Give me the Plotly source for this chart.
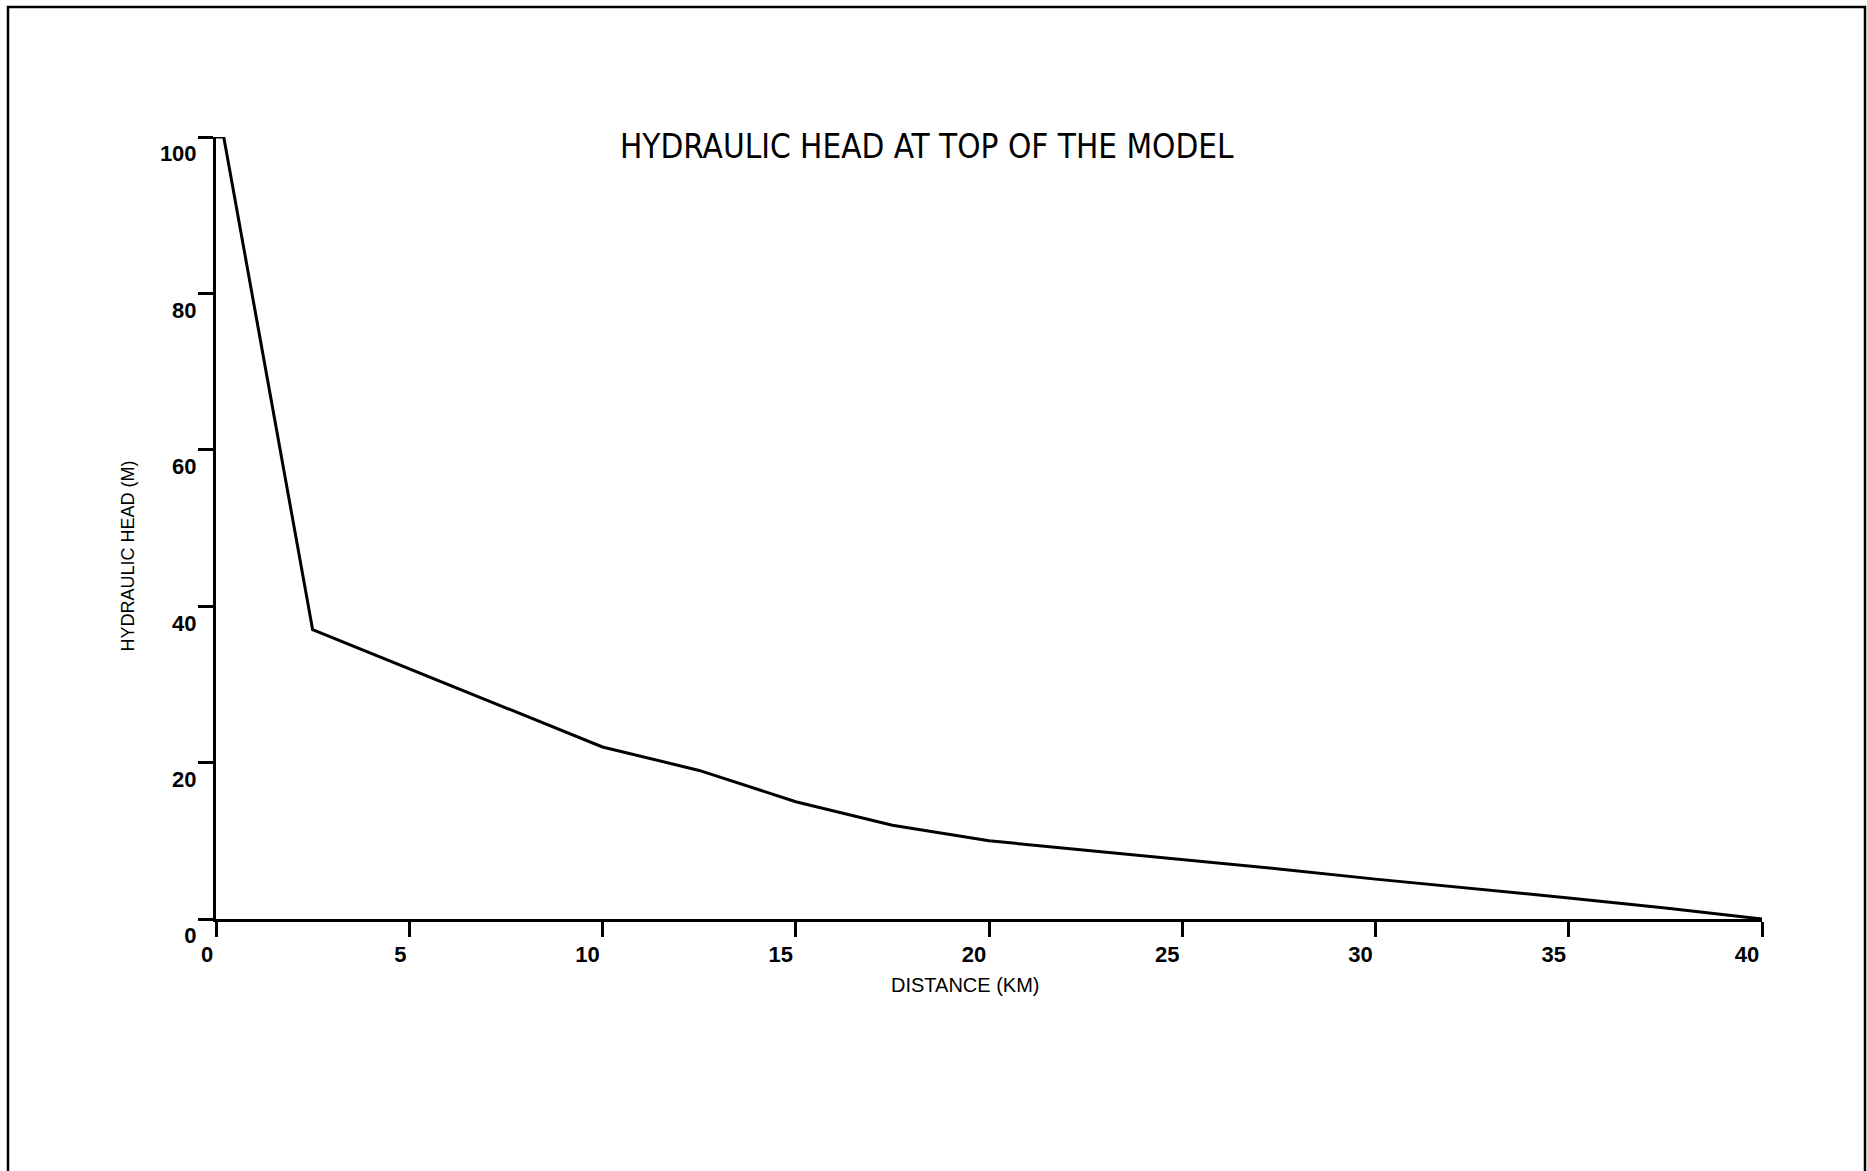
import plotly.graph_objects as go

# Hydraulic head profile along the top of the model
distance_km = [0, 0.2, 2.5, 5, 7.5, 10, 12.5, 15, 17.5, 20, 22.5, 25, 27.5, 30, 32.5, 35, 37.5, 40]
head_m = [100, 100, 37, 32, 27, 22, 19, 15.0, 12, 10, 8.8, 7.6, 6.4, 5.1, 3.9, 2.7, 1.4, 0]

x_ticks = [0, 5, 10, 15, 20, 25, 30, 35, 40]
y_ticks = [0, 20, 40, 60, 80, 100]

title_text = "HYDRAULIC HEAD AT TOP OF THE MODEL"
x_title = "DISTANCE (KM)"
y_title = "HYDRAULIC HEAD (M)"

W, H = 1867, 1171
L, R, T, B = 216, 105, 137, 252

label_font = "Liberation Sans, Arial, sans-serif"
narrow_font = "Liberation Sans Narrow, DejaVu Sans Condensed, Liberation Sans, Arial, sans-serif"

fig = go.Figure()
fig.add_trace(go.Scatter(
    x=distance_km, y=head_m, mode="lines",
    line=dict(color="black", width=3),
    hoverinfo="skip", showlegend=False,
))

axis_common = dict(
    showgrid=False, zeroline=False, showline=True, linecolor="black", linewidth=3,
    ticks="outside", ticklen=15, tickwidth=2.5, tickcolor="black",
    tickfont=dict(family=label_font, size=22, color="black", weight="bold"),
)

fig.update_xaxes(
    range=[0, 40], tickvals=x_ticks, ticktext=[str(v) for v in x_ticks],
    ticklabelposition="outside left", ticklabelstandoff=14, **axis_common,
)
fig.update_yaxes(
    range=[0, 100], tickvals=y_ticks, ticktext=[str(v) for v in y_ticks],
    ticklabelposition="outside bottom", ticklabelstandoff=12, **axis_common,
)

pw = W - L - R
ph = H - T - B


def px_x(px):
    return (px - L) / pw


def px_y(py):
    return (H - B - py) / ph


annotations = [
    dict(text=title_text, x=px_x(927), y=px_y(146), xref="paper", yref="paper",
         xanchor="center", yanchor="middle", showarrow=False,
         font=dict(family=narrow_font, size=33, color="black")),
    dict(text=x_title, x=px_x(965), y=px_y(985), xref="paper", yref="paper",
         xanchor="center", yanchor="middle", showarrow=False,
         font=dict(family=label_font, size=20, color="black")),
    dict(text=y_title, x=px_x(127.5), y=px_y(556), xref="paper", yref="paper",
         xanchor="center", yanchor="middle", showarrow=False, textangle=-90,
         font=dict(family=label_font, size=18, color="black")),
]

# Page frame: left, top and right edges
fx0, fx1 = px_x(8), px_x(1865)
fy_top, fy_bot = px_y(7), px_y(H + 10)
shapes = [
    dict(type="path", xref="paper", yref="paper",
         path=f"M {fx0},{fy_bot} L {fx0},{fy_top} L {fx1},{fy_top} L {fx1},{fy_bot}",
         line=dict(color="black", width=2.5)),
]

fig.update_layout(
    width=W, height=H,
    margin=dict(l=L, r=R, t=T, b=B, pad=0),
    paper_bgcolor="white", plot_bgcolor="white",
    annotations=annotations, shapes=shapes,
    showlegend=False,
)

fig.write_html("out.html")
